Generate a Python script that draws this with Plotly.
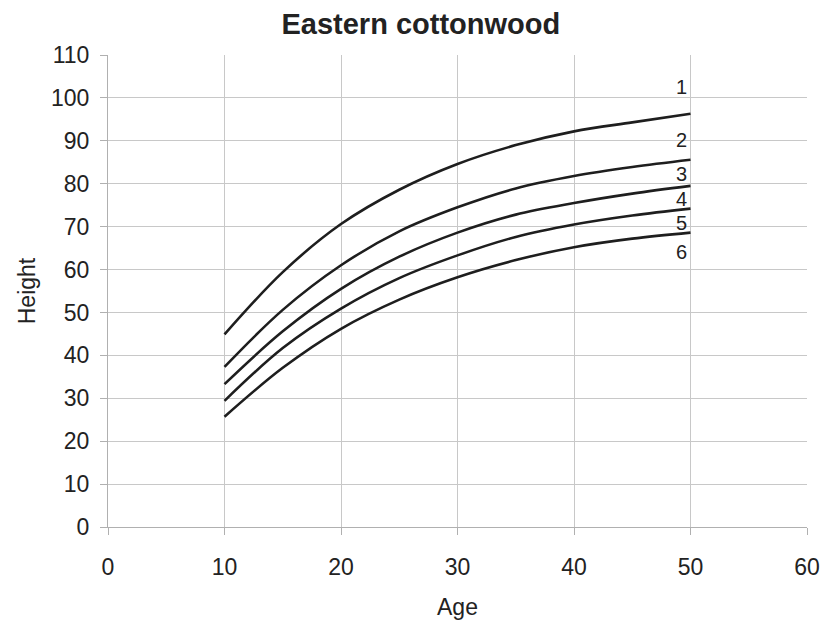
import plotly.graph_objects as go

ages = [10, 15, 20, 25, 30, 35, 40, 45, 50]
curve1 = [44.9, 59.4, 70.6, 78.6, 84.6, 89.0, 92.2, 94.3, 96.3]
curve2 = [37.3, 50.6, 61.0, 68.9, 74.5, 78.9, 81.8, 83.9, 85.6]
curve3 = [33.3, 45.6, 55.5, 63.0, 68.6, 72.8, 75.5, 77.7, 79.5]
curve4 = [29.4, 41.7, 50.9, 58.0, 63.3, 67.6, 70.5, 72.6, 74.2]
curve5 = [25.7, 37.1, 46.2, 53.0, 58.2, 62.2, 65.2, 67.2, 68.6]
curves = [curve1, curve2, curve3, curve4, curve5]

label_texts = ["1", "2", "3", "4", "5", "6"]
label_x = [49.2, 49.2, 49.2, 49.2, 49.2, 49.2]
label_y = [102.6, 90.1, 82.2, 76.5, 70.8, 64.1]

FONT = "Liberation Sans, Arial, sans-serif"

fig = go.Figure()
for c in curves:
    fig.add_trace(go.Scatter(x=ages, y=c, mode="lines",
                             line=dict(color="#1e1e1e", width=2.6, shape="spline", smoothing=1.0),
                             showlegend=False, hoverinfo="skip"))

for t, x, y in zip(label_texts, label_x, label_y):
    fig.add_annotation(x=x, y=y, text=t, showarrow=False,
                       font=dict(family=FONT, size=20, color="#222"),
                       xanchor="center", yanchor="middle")

fig.update_layout(
    width=822, height=631,
    margin=dict(l=108, r=15, t=55, b=104),
    paper_bgcolor="white", plot_bgcolor="white",
    title=dict(text="<b>Eastern cottonwood</b>", x=0.512, xanchor="center",
               y=0.962, yanchor="middle",
               font=dict(family=FONT, size=29, color="#222")),
    font=dict(family=FONT, color="#222"),
)
fig.update_xaxes(range=[0, 60], tickvals=[0, 10, 20, 30, 40, 50, 60],
                 showgrid=True, gridcolor="#c8c8c8", gridwidth=1,
                 showline=True, linecolor="#b0b0b0", linewidth=1,
                 ticks="outside", ticklen=7, tickcolor="#b0b0b0",
                 tickfont=dict(family=FONT, size=23, color="#222"),
                 ticklabelstandoff=12, zeroline=False, automargin=False,
                 title=dict(text="Age", font=dict(family=FONT, size=23, color="#222"),
                            standoff=20))
fig.update_yaxes(range=[0, 110], tickvals=list(range(0, 111, 10)),
                 showgrid=True, gridcolor="#c8c8c8", gridwidth=1,
                 showline=True, linecolor="#b0b0b0", linewidth=1,
                 ticks="outside", ticklen=7, tickcolor="#b0b0b0",
                 tickfont=dict(family=FONT, size=23, color="#222"),
                 ticklabelstandoff=6, zeroline=False, automargin=False,
                 title=dict(text="Height", font=dict(family=FONT, size=23, color="#222"),
                            standoff=8))

fig.write_html("out.html", config={"displayModeBar": False},
               post_script="document.body.style.margin='0';document.body.style.overflow='hidden';")
